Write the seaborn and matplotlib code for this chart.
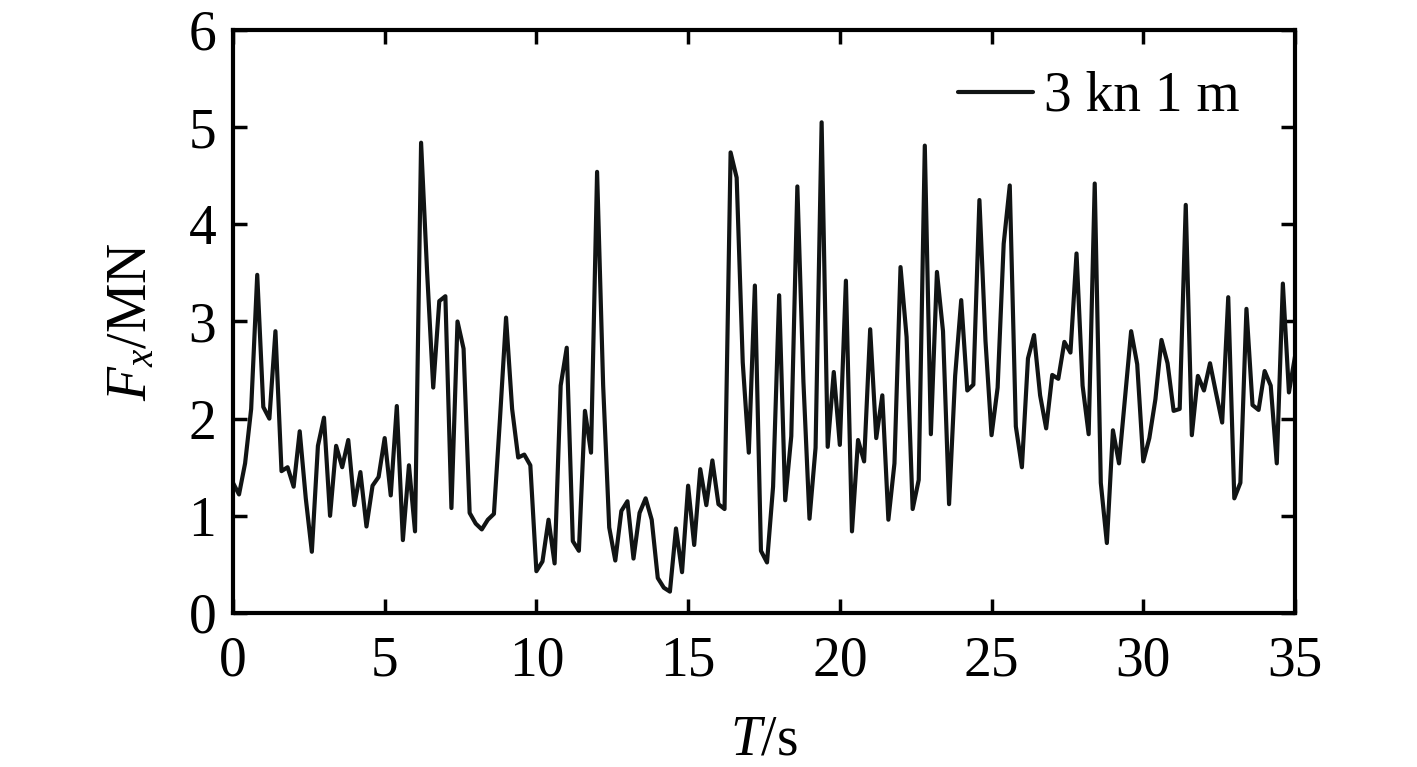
import numpy as np
import pandas as pd
import matplotlib
matplotlib.use("Agg")
import matplotlib.pyplot as plt
import seaborn as sns

# ---- data ----
time_step = 0.2
fx_values = [
    1.34, 1.22, 1.54, 2.10, 3.48, 2.12, 2.00, 2.90, 1.46, 1.50,
    1.30, 1.87, 1.18, 0.63, 1.72, 2.01, 1.00, 1.72, 1.50, 1.78,
    1.11, 1.45, 0.89, 1.31, 1.40, 1.80, 1.21, 2.13, 0.75, 1.52,
    0.84, 4.84, 3.50, 2.32, 3.21, 3.26, 1.08, 3.00, 2.72, 1.03,
    0.92, 0.86, 0.96, 1.02, 2.00, 3.04, 2.10, 1.60, 1.63, 1.52,
    0.43, 0.53, 0.96, 0.51, 2.34, 2.73, 0.74, 0.64, 2.08, 1.65,
    4.54, 2.34, 0.88, 0.54, 1.05, 1.15, 0.56, 1.03, 1.18, 0.96,
    0.36, 0.26, 0.22, 0.87, 0.42, 1.31, 0.70, 1.48, 1.11, 1.57,
    1.12, 1.07, 4.74, 4.48, 2.58, 1.65, 3.37, 0.64, 0.52, 1.30,
    3.27, 1.16, 1.82, 4.39, 2.38, 0.97, 1.70, 5.05, 1.71, 2.48,
    1.73, 3.42, 0.84, 1.78, 1.56, 2.92, 1.80, 2.24, 0.96, 1.54,
    3.56, 2.84, 1.07, 1.37, 4.81, 1.84, 3.51, 2.90, 1.12, 2.44,
    3.22, 2.29, 2.35, 4.25, 2.80, 1.83, 2.32, 3.80, 4.40, 1.92,
    1.50, 2.62, 2.86, 2.24, 1.90, 2.45, 2.41, 2.79, 2.68, 3.70,
    2.34, 1.84, 4.42, 1.34, 0.72, 1.88, 1.54, 2.22, 2.90, 2.56,
    1.56, 1.80, 2.20, 2.81, 2.57, 2.08, 2.10, 4.20, 1.83, 2.44,
    2.29, 2.57, 2.26, 1.96, 3.25, 1.18, 1.34, 3.13, 2.14, 2.09,
    2.49, 2.34, 1.54, 3.39, 2.27, 2.64,
]
time_values = np.round(np.arange(len(fx_values)) * time_step, 1)
series_label = "3 kn 1 m"
x_ticks = [0, 5, 10, 15, 20, 25, 30, 35]
y_ticks = [0, 1, 2, 3, 4, 5, 6]

df = pd.DataFrame({"T": time_values, "Fx": fx_values, "case": series_label})

sns.set_style("ticks")
plt.rcParams["font.family"] = ["Liberation Serif", "DejaVu Serif"]
plt.rcParams["mathtext.fontset"] = "custom"
plt.rcParams["mathtext.rm"] = "Liberation Serif"
plt.rcParams["mathtext.it"] = "Liberation Serif:italic"
plt.rcParams["text.color"] = "black"
plt.rcParams["axes.labelcolor"] = "black"
plt.rcParams["xtick.color"] = "black"
plt.rcParams["ytick.color"] = "black"

fig = plt.figure(figsize=(14.17, 7.67), dpi=100)
ax = fig.add_axes([0.1644, 0.2008, 0.9139 - 0.1644, 0.9609 - 0.2008])

sns.lineplot(data=df, x="T", y="Fx", hue="case", palette=["#111414"],
             linewidth=3.0, ax=ax)

ax.set_xlim(0, 35)
ax.set_ylim(0, 6)
ax.set_xticks(x_ticks)
ax.set_yticks(y_ticks)
ax.tick_params(axis="both", direction="in", length=10, width=2.5,
               top=True, right=True, labelsize=40)
ax.tick_params(axis="x", pad=16)
ax.tick_params(axis="y", pad=12)
for s in ax.spines.values():
    s.set_linewidth(3)
    s.set_color("black")

ax.set_xlabel(r"$T$/s", fontsize=40, labelpad=20)
ax.set_ylabel(r"$F_x$/MN", fontsize=40, labelpad=22)

leg = ax.legend(loc="upper right", frameon=False, fontsize=40,
                handlelength=1.35, handletextpad=0.2,
                borderaxespad=0.6, bbox_to_anchor=(1.0, 1.025))
for line in leg.get_lines():
    line.set_linewidth(3)

fig.savefig("out.png", dpi=100)
